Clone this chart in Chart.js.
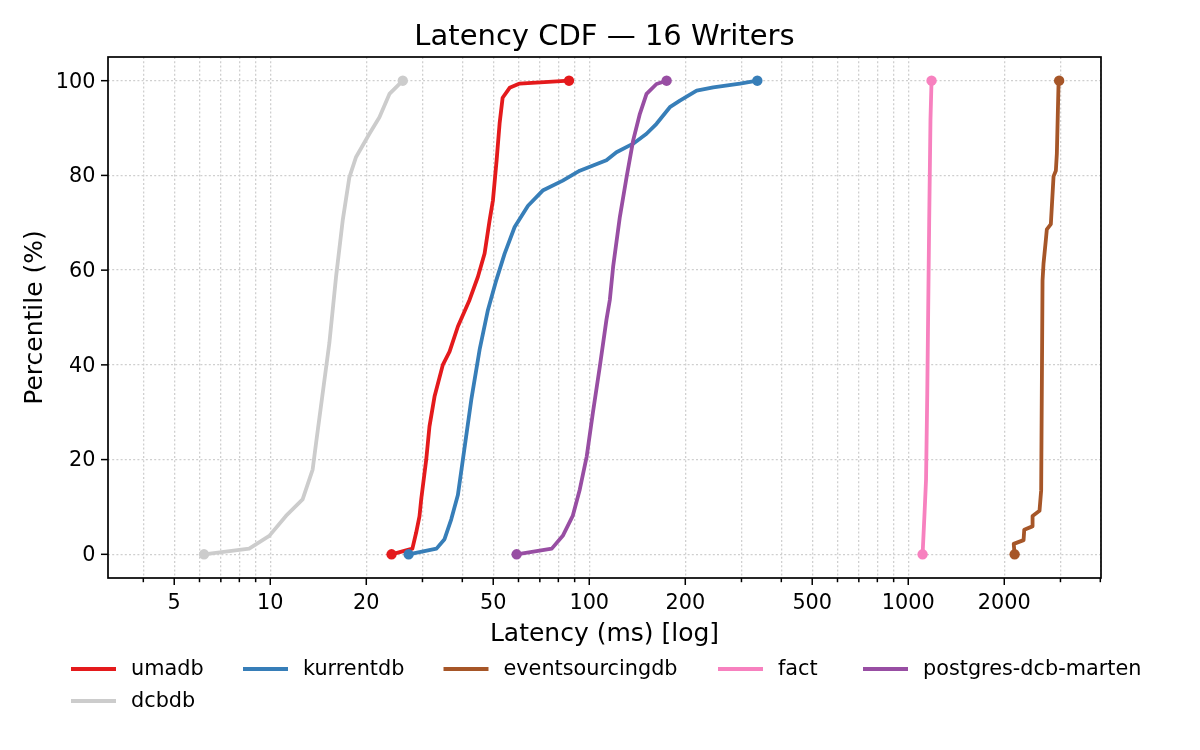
<!DOCTYPE html>
<html>
<head>
<meta charset="utf-8">
<script src="https://cdn.jsdelivr.net/npm/chart.js@4"></script>
<style>
  html, body { margin: 0; padding: 0; background: #ffffff; }
  #wrap { width: 1200px; height: 750px; position: relative; }
</style>
</head>
<body>
<div id="wrap"><canvas id="c"></canvas></div>
<script>
// ---- Data (latency in ms, cumulative percentile) ----
const chartTitle = 'Latency CDF — 16 Writers';
const seriesNames = ['umadb', 'kurrentdb', 'eventsourcingdb', 'fact', 'postgres-dcb-marten', 'dcbdb'];

const umadbMs  = [24.0, 27.9, 28.67, 29.36, 29.73, 30.83, 31.56, 32.73, 34.75, 36.48, 38.74, 42.14, 44.77, 46.98, 48.71, 49.89, 51.24, 52.36, 53.51, 56.28, 60.5, 86.4];
const umadbPct = [0, 1.2, 4.6, 8, 11.6, 20, 27, 33.3, 40, 42.8, 48.1, 53.7, 58.6, 63.5, 70.5, 74.7, 83.2, 91, 96.4, 98.5, 99.4, 100];

const kurrentdbMs  = [27.15, 33.2, 35.18, 36.93, 38.74, 40.17, 42.67, 45.32, 48.13, 51.13, 54.29, 58.36, 64.27, 71.45, 82.58, 93.38, 102.8, 113.2, 121.7, 137.3, 151.2, 162.5, 178.9, 192.4, 217.1, 244.7, 296.9, 336.4];
const kurrentdbPct = [0, 1.2, 3.2, 7.4, 12.5, 20, 32.6, 43.2, 51.6, 57.9, 63.5, 69.1, 73.6, 76.8, 78.9, 81, 82.1, 83.2, 84.9, 86.7, 88.8, 90.9, 94.4, 95.8, 97.9, 98.6, 99.4, 100];

const eventsourcingdbMs  = [2155, 2141, 2299, 2310, 2450, 2453, 2579, 2610, 2636, 2655, 2700, 2719, 2799, 2854, 2902, 2923, 2958, 2972];
const eventsourcingdbPct = [0, 2.2, 3.0, 5.2, 5.9, 8.1, 9.2, 13.5, 57.8, 61.4, 66.4, 68.6, 69.7, 79.8, 81, 84.6, 99, 100];

const factMs  = [1109, 1125, 1137, 1147, 1163, 1174, 1183];
const factPct = [0, 8.8, 15.8, 33.8, 70, 91.8, 100];

const martenMs  = [59.2, 76.3, 82.6, 88.75, 93.4, 98.2, 102.6, 107.9, 113.2, 116, 118.8, 124.7, 130.9, 137.3, 144.1, 151.2, 162.5, 174.8];
const martenPct = [0, 1.2, 3.9, 8.1, 13.7, 20.7, 29.8, 39.6, 49.5, 53.7, 60.7, 71.2, 79.6, 87.4, 93, 97.2, 99.3, 100];

const dcbdbMs  = [6.2, 8.59, 9.93, 11.2, 12.63, 13.58, 13.92, 14.6, 15.32, 16.08, 16.87, 17.7, 18.58, 20.46, 21.99, 23.64, 26.03];
const dcbdbPct = [0, 1.2, 3.9, 8.1, 11.6, 17.9, 23.5, 34, 44.6, 58.6, 70.5, 79.6, 83.9, 88.8, 92.3, 97.2, 100];

const seriesColors = ['#e41a1c', '#377eb8', '#a65628', '#f781bf', '#984ea3', '#cccccc'];

// ---- Axis ticks ----
const xLabeledTicks = [5, 10, 20, 50, 100, 200, 500, 1000, 2000];
const xMinorTicks = [4, 5, 6, 7, 8, 9, 10, 20, 30, 40, 50, 60, 70, 80, 90, 100, 200, 300, 400, 500, 600, 700, 800, 900, 1000, 2000, 3000, 4000];
const yTicks = [0, 20, 40, 60, 80, 100];
const xRange = [3.1, 4020];
const yRange = [-5, 105];

const FONT = "'DejaVu Sans', 'Liberation Sans', sans-serif";

const xsList = [umadbMs, kurrentdbMs, eventsourcingdbMs, factMs, martenMs, dcbdbMs];
const ysList = [umadbPct, kurrentdbPct, eventsourcingdbPct, factPct, martenPct, dcbdbPct];

const datasets = seriesNames.map((name, i) => {
  const xs = xsList[i], ys = ysList[i];
  const n = xs.length;
  return {
    label: name,
    data: xs.map((x, j) => ({ x: x, y: ys[j] })),
    borderColor: seriesColors[i],
    backgroundColor: seriesColors[i],
    borderWidth: 3.8,
    tension: 0,
    fill: false,
    borderJoinStyle: 'round',
    pointRadius: (ctx) => (ctx.dataIndex === 0 || ctx.dataIndex === n - 1) ? 5.2 : 0,
    pointHoverRadius: 0,
    pointBorderWidth: 0,
    pointBackgroundColor: seriesColors[i],
    order: seriesNames.length - i
  };
});

const isLabeled = (v) => xLabeledTicks.some(l => Math.abs(v - l) < 1e-6 * l);

const framePlugin = {
  id: 'framePlugin',
  afterDraw(chart) {
    const ctx = chart.ctx;
    const a = chart.chartArea;
    const xs = chart.scales.x, ys = chart.scales.y;
    ctx.save();
    // tick marks
    ctx.strokeStyle = '#000000';
    ctx.lineWidth = 1.5;
    ctx.setLineDash([]);
    xMinorTicks.forEach(v => {
      if (v <= xRange[0] || v >= xRange[1]) return;
      const px = xs.getPixelForValue(v);
      const len = isLabeled(v) ? 7 : 4.2;
      ctx.beginPath();
      ctx.moveTo(px, a.bottom);
      ctx.lineTo(px, a.bottom + len);
      ctx.stroke();
    });
    yTicks.forEach(v => {
      const py = ys.getPixelForValue(v);
      ctx.beginPath();
      ctx.moveTo(a.left, py);
      ctx.lineTo(a.left - 7, py);
      ctx.stroke();
    });
    // frame
    ctx.lineWidth = 1.7;
    ctx.strokeStyle = '#000000';
    ctx.strokeRect(a.left, a.top, a.right - a.left, a.bottom - a.top);

    // title centred over the plot area
    ctx.fillStyle = '#000000';
    ctx.font = '29px ' + FONT;
    ctx.textAlign = 'center';
    ctx.textBaseline = 'middle';
    ctx.fillText(chartTitle, (a.left + a.right) / 2, 37);

    // legend (matplotlib-like grid of 5 columns)
    const colX = [71, 243, 443.5, 718, 863];
    const rowY = [669, 701];
    ctx.font = '20.8px ' + FONT;
    ctx.textBaseline = 'middle';
    ctx.textAlign = 'left';
    seriesNames.forEach((name, i) => {
      const col = i % 5, row = Math.floor(i / 5);
      const x = colX[col], y = rowY[row];
      ctx.strokeStyle = seriesColors[i];
      ctx.lineWidth = 4;
      ctx.beginPath();
      ctx.moveTo(x, y);
      ctx.lineTo(x + 45, y);
      ctx.stroke();
      ctx.fillStyle = '#000000';
      ctx.fillText(name, x + 60, y + 1);
    });
    ctx.restore();
  }
};

new Chart(document.getElementById('c'), {
  type: 'line',
  data: { datasets: datasets },
  options: {
    responsive: true,
    maintainAspectRatio: false,
    animation: false,
    events: [],
    layout: { padding: { left: 0, right: 99, top: 57, bottom: 92 } },
    plugins: {
      legend: { display: false },
      tooltip: { enabled: false },
      title: { display: false }
    },
    scales: {
      x: {
        type: 'logarithmic',
        min: xRange[0],
        max: xRange[1],
        afterBuildTicks: (scale) => { scale.ticks = xMinorTicks.map(v => ({ value: v })); },
        afterFit: (scale) => { scale.height = 80; },
        grid: {
          color: '#cfcfcf',
          lineWidth: 1.3,
          drawTicks: false,
          drawOnChartArea: true
        },
        border: { display: false, dash: [2, 2.2] },
        ticks: {
          autoSkip: false,
          maxRotation: 0,
          minRotation: 0,
          padding: 13,
          color: '#000000',
          font: { family: FONT, size: 20.8 },
          callback: (value) => isLabeled(value) ? String(Math.round(value)) : ''
        },
        title: {
          display: true,
          text: 'Latency (ms) [log]',
          color: '#000000',
          font: { family: FONT, size: 25 },
          padding: { top: 0, bottom: 9 }
        }
      },
      y: {
        type: 'linear',
        min: yRange[0],
        max: yRange[1],
        afterBuildTicks: (scale) => { scale.ticks = yTicks.map(v => ({ value: v })); },
        afterFit: (scale) => { scale.width = 108; },
        grid: {
          color: '#cfcfcf',
          lineWidth: 1.3,
          drawTicks: false
        },
        border: { display: false, dash: [2, 2.2] },
        ticks: {
          padding: 12.5,
          labelOffset: 1.5,
          color: '#000000',
          font: { family: FONT, size: 20.8 },
          callback: (value) => String(value)
        },
        title: {
          display: true,
          text: 'Percentile (%)',
          color: '#000000',
          font: { family: FONT, size: 25 },
          padding: { top: 20, bottom: 0 }
        }
      }
    }
  },
  plugins: [framePlugin]
});
</script>
</body>
</html>
